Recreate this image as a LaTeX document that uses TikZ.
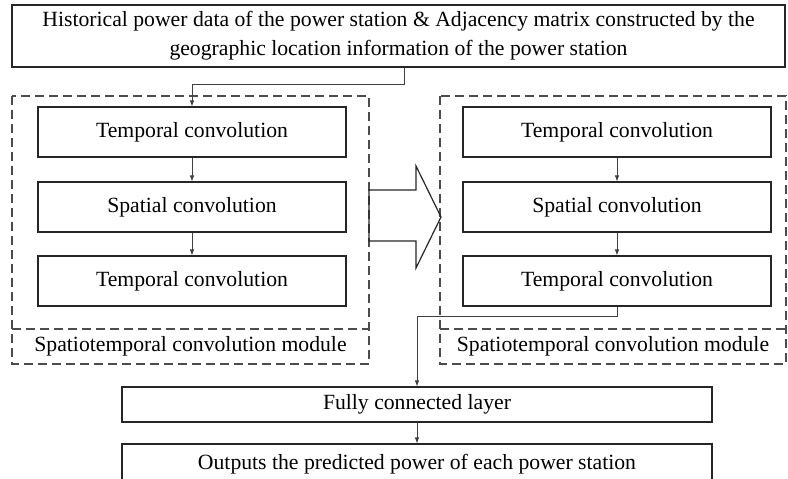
\documentclass[tikz,border=0pt]{standalone}
\usepackage{fontspec}
\setmainfont{Liberation Serif}
\usetikzlibrary{arrows.meta}

\begin{document}
\begin{tikzpicture}[x=1pt, y=-1pt,
  txt/.style={font=\fontsize{21.7}{29}\selectfont},
  block/.style={txt, draw=black!85, line width=1.2pt, minimum width=308pt, minimum height=50pt,
    inner sep=0pt},
  wide/.style={block, minimum width=590pt, minimum height=35pt},
  module/.style={draw=black!70, line width=1.2pt, dash pattern=on 9pt off 5pt},
  link/.style={draw=black!75, line width=0.7pt, -{Latex[length=6pt, width=4.5pt]}}]

  \useasboundingbox (0,0) rectangle (788,479);

  % input data
  \node[block, minimum width=773pt, minimum height=62pt, align=center] (top) at (398.5,36)
    {Historical power data of the power station \& Adjacency matrix constructed by the\\
     geographic location information of the power station};

  % first spatiotemporal module
  \draw[module] (12,96) rectangle (369,364);
  \draw[module] (12,329) -- (369,329);
  \node[txt] (lbl1) at (190.5,346.5) {Spatiotemporal convolution module};
  \node[block] (lt1) at (192,132) {Temporal convolution};
  \node[block] (ls) at (192,207) {Spatial convolution};
  \node[block] (lt2) at (192,281) {Temporal convolution};

  % second spatiotemporal module
  \draw[module] (440,96) rectangle (786,364);
  \draw[module] (440,329) -- (786,329);
  \node[txt] (lbl2) at (613,346.5) {Spatiotemporal convolution module};
  \node[block] (rt1) at (617,132) {Temporal convolution};
  \node[block] (rs) at (617,207) {Spatial convolution};
  \node[block] (rt2) at (617,281) {Temporal convolution};

  % big hollow arrow between the modules
  \draw[black!85, line width=1.2pt, line join=miter]
    (369,190) -- (416,190) -- (416,166) -- (441,217) -- (416,268) -- (416,241) -- (369,241) -- cycle;

  % output part
  \node[wide] (fc) at (417,404.5) {Fully connected layer};
  \node[wide, minimum height=40pt] (out) at (417,464) {Outputs the predicted power of each power station};

  % connectors
  \draw[link] ([xshift=5.5pt]top.south) -- ++(0,17) -| (lt1.north);
  \draw[link] (lt1) -- (ls);
  \draw[link] (ls) -- (lt2);
  \draw[link] (rt1) -- (rs);
  \draw[link] (rs) -- (rt2);
  \draw[link] (rt2.south) -- ++(0,10) -| (fc.north);
  \draw[link] (fc) -- (out);

\end{tikzpicture}
\end{document}
